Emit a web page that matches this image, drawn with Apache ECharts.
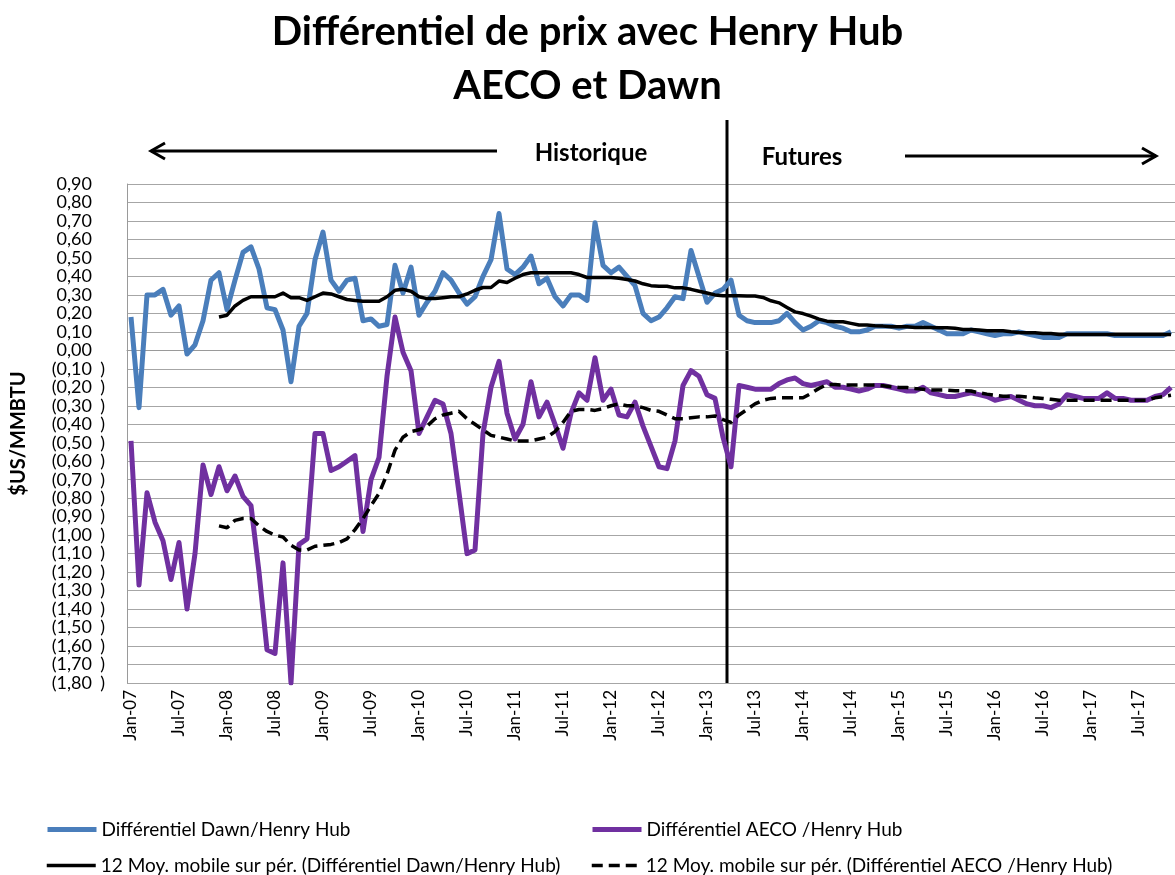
<!DOCTYPE html>
<html>
<head>
<meta charset="utf-8">
<script src="https://cdn.jsdelivr.net/npm/echarts@6/dist/echarts.min.js"></script>
<style>
  html, body { margin: 0; padding: 0; background: #fff; }
  #chart { width: 1175px; height: 875px; }
</style>
</head>
<body>
<div id="chart"></div>
<script>
// mois de Jan-07 a Nov-17
var monthNames = ['Jan', 'Feb', 'Mar', 'Apr', 'May', 'Jun', 'Jul', 'Aug', 'Sep', 'Oct', 'Nov', 'Dec']
var years = ['07', '08', '09', '10', '11', '12', '13', '14', '15', '16', '17']
var categories = []
years.forEach(function (y) {
  monthNames.forEach(function (m) {
    categories.push(m + '-' + y)
  })
})
categories = categories.slice(0, 131)

var dawn = [
  0.18, -0.31, 0.30, 0.30, 0.33, 0.19, 0.24, -0.02, 0.03, 0.16, 0.38, 0.42,
  0.22, 0.38, 0.53, 0.56, 0.44, 0.23, 0.22, 0.11, -0.17, 0.13, 0.20, 0.49,
  0.64, 0.38, 0.32, 0.38, 0.39, 0.16, 0.17, 0.13, 0.14, 0.46, 0.31, 0.45,
  0.19, 0.26, 0.32, 0.42, 0.38, 0.31, 0.25, 0.29, 0.40, 0.49, 0.74, 0.44,
  0.41, 0.45, 0.51, 0.36, 0.39, 0.29, 0.24, 0.30, 0.30, 0.27, 0.69, 0.46,
  0.42, 0.45, 0.40, 0.35, 0.20, 0.16, 0.18, 0.23, 0.29, 0.28, 0.54, 0.40,
  0.26, 0.31, 0.33, 0.38, 0.19, 0.16, 0.15, 0.15, 0.15, 0.16, 0.20, 0.15,
  0.11, 0.13, 0.16, 0.15, 0.13, 0.12, 0.10, 0.10, 0.11, 0.13, 0.13, 0.13,
  0.12, 0.13, 0.13, 0.15, 0.13, 0.11, 0.09, 0.09, 0.09, 0.11, 0.10, 0.09,
  0.08, 0.09, 0.09, 0.10, 0.09, 0.08, 0.07, 0.07, 0.07, 0.09, 0.09, 0.09,
  0.09, 0.09, 0.09, 0.08, 0.08, 0.08, 0.08, 0.08, 0.08, 0.08, 0.10
]
var aeco = [
  -0.49, -1.27, -0.77, -0.93, -1.03, -1.24, -1.04, -1.40, -1.10, -0.62, -0.78, -0.63,
  -0.76, -0.68, -0.79, -0.84, -1.20, -1.62, -1.64, -1.15, -1.80, -1.05, -1.02, -0.45,
  -0.45, -0.65, -0.63, -0.60, -0.57, -0.98, -0.70, -0.58, -0.14, 0.18, -0.01, -0.11,
  -0.45, -0.36, -0.27, -0.29, -0.45, -0.77, -1.10, -1.08, -0.45, -0.20, -0.06, -0.34,
  -0.48, -0.40, -0.17, -0.36, -0.28, -0.40, -0.53, -0.34, -0.23, -0.27, -0.04, -0.27,
  -0.21, -0.35, -0.36, -0.28, -0.41, -0.52, -0.63, -0.64, -0.49, -0.19, -0.11, -0.14,
  -0.24, -0.26, -0.47, -0.63, -0.19, -0.20, -0.21, -0.21, -0.21, -0.18, -0.16, -0.15,
  -0.18, -0.19, -0.18, -0.17, -0.20, -0.20, -0.21, -0.22, -0.21, -0.19, -0.19, -0.20,
  -0.21, -0.22, -0.22, -0.20, -0.23, -0.24, -0.25, -0.25, -0.24, -0.23, -0.24, -0.25,
  -0.27, -0.26, -0.25, -0.27, -0.29, -0.30, -0.30, -0.31, -0.29, -0.24, -0.25, -0.26,
  -0.26, -0.26, -0.23, -0.26, -0.26, -0.27, -0.27, -0.27, -0.25, -0.24, -0.20
]
// moyennes mobiles 12 mois (debut Dec-07)
var dawnMA = [
  '-', '-', '-', '-', '-', '-', '-', '-', '-', '-', '-', 0.18,
  0.19, 0.24, 0.27, 0.29, 0.29, 0.29, 0.29, 0.31, 0.285, 0.285, 0.27, 0.29,
  0.31, 0.305, 0.29, 0.275, 0.27, 0.265, 0.265, 0.265, 0.29, 0.325, 0.33, 0.32,
  0.29, 0.28, 0.28, 0.285, 0.29, 0.29, 0.305, 0.325, 0.34, 0.34, 0.375, 0.367,
  0.39, 0.41, 0.42, 0.42, 0.42, 0.42, 0.42, 0.42, 0.41, 0.394, 0.394, 0.394,
  0.394, 0.39, 0.383, 0.375, 0.36, 0.35, 0.347, 0.347, 0.338, 0.338, 0.33, 0.32,
  0.31, 0.30, 0.295, 0.295, 0.295, 0.294, 0.294, 0.286, 0.268, 0.257, 0.232, 0.208,
  0.199, 0.185, 0.169, 0.158, 0.155, 0.155, 0.146, 0.137, 0.137, 0.133, 0.131, 0.128,
  0.128, 0.128, 0.124, 0.124, 0.124, 0.122, 0.122, 0.119, 0.113, 0.113, 0.11, 0.106,
  0.106, 0.106, 0.10, 0.097, 0.095, 0.095, 0.091, 0.091, 0.086, 0.086, 0.086, 0.086,
  0.086, 0.086, 0.086, 0.086, 0.086, 0.086, 0.086, 0.086, 0.086, 0.086, 0.086
]
var aecoMA = [
  '-', '-', '-', '-', '-', '-', '-', '-', '-', '-', '-', -0.95,
  -0.96, -0.92, -0.91, -0.91, -0.95, -0.98, -1.00, -1.01, -1.055, -1.08, -1.08, -1.06,
  -1.055, -1.05, -1.04, -1.02, -0.97, -0.91, -0.84, -0.775, -0.67, -0.54, -0.47, -0.44,
  -0.43, -0.41, -0.37, -0.35, -0.34, -0.33, -0.37, -0.40, -0.43, -0.46, -0.47, -0.48,
  -0.49, -0.49, -0.49, -0.48, -0.47, -0.44, -0.39, -0.33, -0.32, -0.32, -0.325, -0.315,
  -0.30, -0.29, -0.30, -0.30, -0.31, -0.325, -0.33, -0.35, -0.37, -0.37, -0.365, -0.36,
  -0.36, -0.355, -0.375, -0.39, -0.35, -0.32, -0.29, -0.27, -0.26, -0.257, -0.257, -0.257,
  -0.257, -0.233, -0.206, -0.185, -0.185, -0.188, -0.188, -0.188, -0.188, -0.188, -0.192, -0.197,
  -0.201, -0.201, -0.206, -0.21, -0.215, -0.215, -0.215, -0.219, -0.219, -0.22, -0.23, -0.237,
  -0.243, -0.248, -0.248, -0.248, -0.252, -0.257, -0.26, -0.265, -0.27, -0.27, -0.27, -0.27,
  -0.27, -0.27, -0.27, -0.27, -0.27, -0.27, -0.27, -0.27, -0.257, -0.25, -0.243
]

var names = [
  'Différentiel Dawn/Henry Hub',
  'Différentiel AECO /Henry Hub',
  '12 Moy. mobile sur pér. (Différentiel Dawn/Henry Hub)',
  '12 Moy. mobile sur pér. (Différentiel AECO /Henry Hub)'
]
var font = 'Lato, "Open Sans", sans-serif'

// une legende par element, placee comme dans Excel
function legendItem(name, left, top, lineWidth) {
  return {
    data: [name],
    left: left,
    top: top,
    padding: 0,
    itemWidth: 49,
    itemHeight: 14,
    itemGap: 4,
    itemStyle: { opacity: 0 },
    lineStyle: { width: lineWidth },
    textStyle: { fontFamily: font, fontSize: 19, color: '#000' }
  }
}

var chart = echarts.init(document.getElementById('chart'))

var option = {
  backgroundColor: '#fff',
  animation: false,
  title: {
    text: 'Différentiel de prix avec Henry Hub\nAECO et Dawn',
    left: 'center',
    top: 0,
    textStyle: {
      fontFamily: font,
      fontSize: 40,
      fontWeight: 'bold',
      lineHeight: 54,
      color: '#000'
    }
  },
  legend: [
    legendItem(names[0], 45, 820, 5),
    legendItem(names[1], 590, 820, 5),
    legendItem(names[2], 45, 856, 3.5),
    legendItem(names[3], 590, 856, 3.5)
  ],
  grid: {
    left: 127,
    right: -4,
    top: 184,
    bottom: 192
  },
  xAxis: {
    type: 'category',
    data: categories,
    boundaryGap: true,
    axisTick: { show: false },
    axisLine: { lineStyle: { color: '#9a9a9a', width: 1 } },
    axisLabel: {
      interval: 5,
      rotate: 90,
      margin: 7,
      fontFamily: font,
      fontSize: 17,
      color: '#000'
    },
    splitLine: { show: false }
  },
  yAxis: {
    type: 'value',
    min: -1.8,
    max: 0.9,
    interval: 0.1,
    name: '$US/MMBTU',
    nameLocation: 'middle',
    nameRotate: 90,
    nameGap: 98,
    nameTextStyle: { fontFamily: font, fontSize: 20, fontWeight: 'bold', color: '#000' },
    axisTick: { show: false },
    axisLine: { show: true, lineStyle: { color: '#9a9a9a', width: 1 } },
    splitLine: { lineStyle: { color: '#a6a6a6', width: 1 } },
    axisLabel: {
      margin: 22,
      fontFamily: font,
      fontSize: 18,
      color: '#000',
      formatter: function (v) {
        var s = Math.abs(v).toFixed(2).replace('.', ',')
        if (v < -0.0001) return '(' + s + '{p|)}'
        return s + '{p| }'
      },
      rich: {
        p: { width: 13, align: 'right', fontFamily: font, fontSize: 18, color: '#000' }
      }
    }
  },
  series: [
    {
      name: names[0],
      type: 'line',
      data: dawn,
      symbol: 'none',
      lineStyle: { color: '#4a7ebb', width: 5, join: 'round' },
      itemStyle: { color: '#4a7ebb' }
    },
    {
      name: names[1],
      type: 'line',
      data: aeco,
      symbol: 'none',
      lineStyle: { color: '#7030a0', width: 5, join: 'round' },
      itemStyle: { color: '#7030a0' }
    },
    {
      name: names[2],
      type: 'line',
      data: dawnMA,
      symbol: 'none',
      lineStyle: { color: '#000', width: 3.5, join: 'round' },
      itemStyle: { color: '#000' }
    },
    {
      name: names[3],
      type: 'line',
      data: aecoMA,
      symbol: 'none',
      lineStyle: { color: '#000', width: 3.5, type: [11, 6] },
      itemStyle: { color: '#000' }
    }
  ]
}

chart.setOption(option)

// ligne de separation historique / futures entre Mar-13 et Apr-13
var xa = chart.convertToPixel({ xAxisIndex: 0 }, 'Mar-13')
var xb = chart.convertToPixel({ xAxisIndex: 0 }, 'Apr-13')
var xDiv = (xa + xb) / 2
var yBottom = chart.convertToPixel({ yAxisIndex: 0 }, -1.8)

chart.setOption({
  graphic: [
    {
      type: 'line',
      shape: { x1: xDiv, y1: 120, x2: xDiv, y2: yBottom },
      style: { stroke: '#000', lineWidth: 3 }
    },
    {
      type: 'line',
      shape: { x1: 151, y1: 151, x2: 497, y2: 151 },
      style: { stroke: '#000', lineWidth: 3 }
    },
    {
      type: 'polyline',
      shape: { points: [[165, 143], [151, 151], [165, 159]] },
      style: { stroke: '#000', lineWidth: 3, fill: null }
    },
    {
      type: 'text',
      x: 591,
      y: 153,
      style: {
        text: 'Historique',
        font: 'bold 24px ' + font,
        fill: '#000',
        textAlign: 'center',
        textVerticalAlign: 'middle'
      }
    },
    {
      type: 'text',
      x: 802,
      y: 157,
      style: {
        text: 'Futures',
        font: 'bold 24px ' + font,
        fill: '#000',
        textAlign: 'center',
        textVerticalAlign: 'middle'
      }
    },
    {
      type: 'line',
      shape: { x1: 905, y1: 156, x2: 1156, y2: 156 },
      style: { stroke: '#000', lineWidth: 3 }
    },
    {
      type: 'polyline',
      shape: { points: [[1142, 148], [1156, 156], [1142, 164]] },
      style: { stroke: '#000', lineWidth: 3, fill: null }
    }
  ]
})
</script>
</body>
</html>
